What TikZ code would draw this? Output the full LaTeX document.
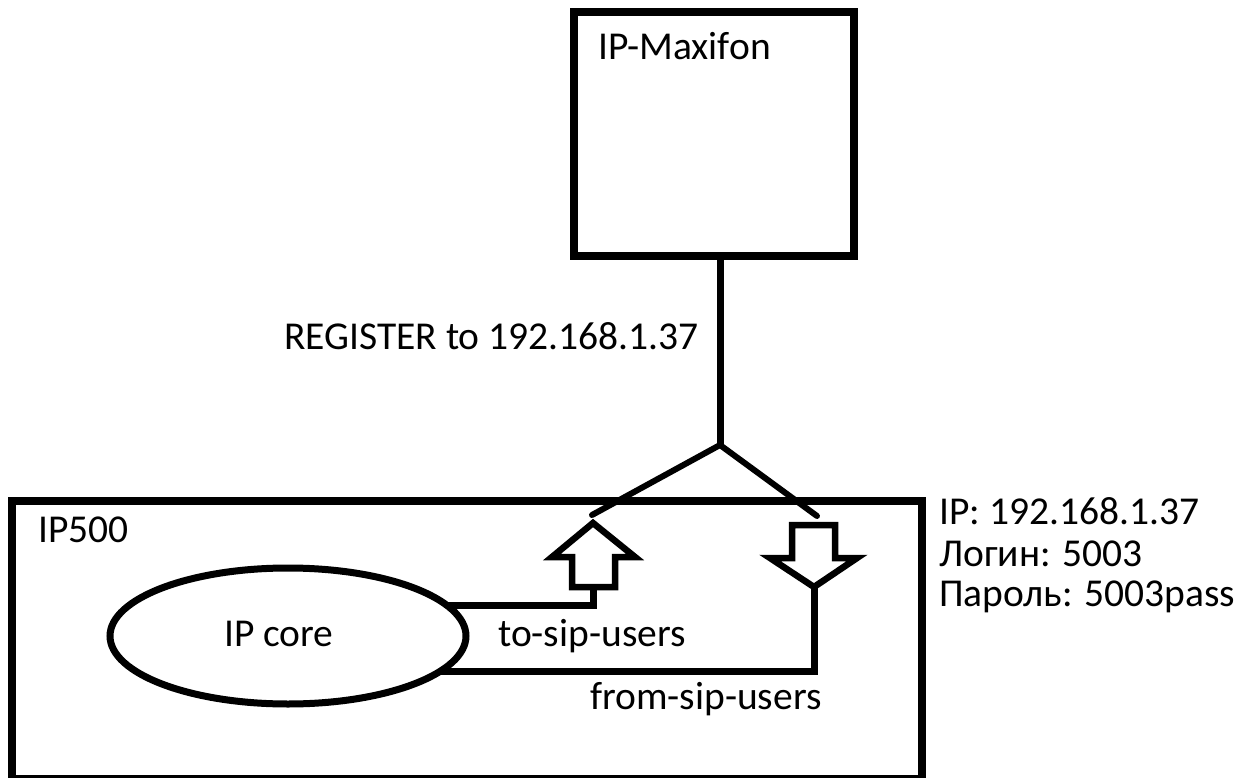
\documentclass[tikz,border=0pt]{standalone}
\usepackage{fontspec}
\setmainfont{Carlito}
\usetikzlibrary{shapes.geometric}
\begin{document}
\begin{tikzpicture}[x=1pt,y=-1pt,
  box/.style={draw, line width=8pt, outer sep=0pt, inner sep=0pt},
  lbl/.style={anchor=base west, inner sep=0pt, font=\fontsize{39.5}{41}\selectfont},
  wire/.style={line width=7pt},
  branch/.style={line width=6pt, line cap=round},
  arrowshape/.style={draw, line width=6.5pt, line join=miter, fill=white}]
\useasboundingbox (0,0) rectangle (1250,778);
% boxes
\node[box, minimum width=280pt, minimum height=244pt] (maxifon) at (714,134) {};
\node[box, minimum width=910pt, minimum height=278pt] (ipfive) at (467,640) {};
\node[box, ellipse, minimum width=356pt, minimum height=136pt, line width=7pt] (core) at (288,636) {};
% labels
\node[lbl] (tmax) at (598,60) {IP-Maxifon};
\node[lbl] (tipfive) at (38,542) {IP500};
\node[lbl] (tcore) at (224,646) {IP core};
\node[lbl] (treg) at (284,349) {REGISTER to 192.168.1.37};
\node[lbl] (tip) at (939,524) {IP: 192.168.1.37};
\node[lbl] (tlog) at (939,566) {Логин: 5003};
\node[lbl] (tpass) at (939,606) {Пароль: 5003pass};
\node[lbl] (tto) at (498,646) {to-sip-users};
\node[lbl] (tfrom) at (590,709) {from-sip-users};
% coordinates
\coordinate (split) at (720,445);
\coordinate (upend) at (592,515);
\coordinate (downend) at (817,516);
\coordinate (uptip) at (593,523);
\coordinate (uptail) at (593,587);
\coordinate (downtop) at (814,525);
\coordinate (downtip) at (814,587);
% trunk and branches
\draw[wire] (split |- maxifon.south) -- (split);
\draw[branch] (split) -- (upend);
\draw[branch] (split) -- (downend);
% up arrow
\draw[arrowshape] (uptip) -- ++(42,34) -- ++(-20,0) -- (615,587) -- (572,587) -- ++(0,-30) -- ++(-20,0) -- cycle;
% down arrow
\draw[arrowshape] (792,525) -- (835,525) -- (835,558) -- (857,558) -- (downtip) -- (770,558) -- (792,558) -- cycle;
% connectors
\draw[wire] (core.11) -| (uptail);
\draw[wire] (core.-13) -| (downtip);
\end{tikzpicture}
\end{document}
